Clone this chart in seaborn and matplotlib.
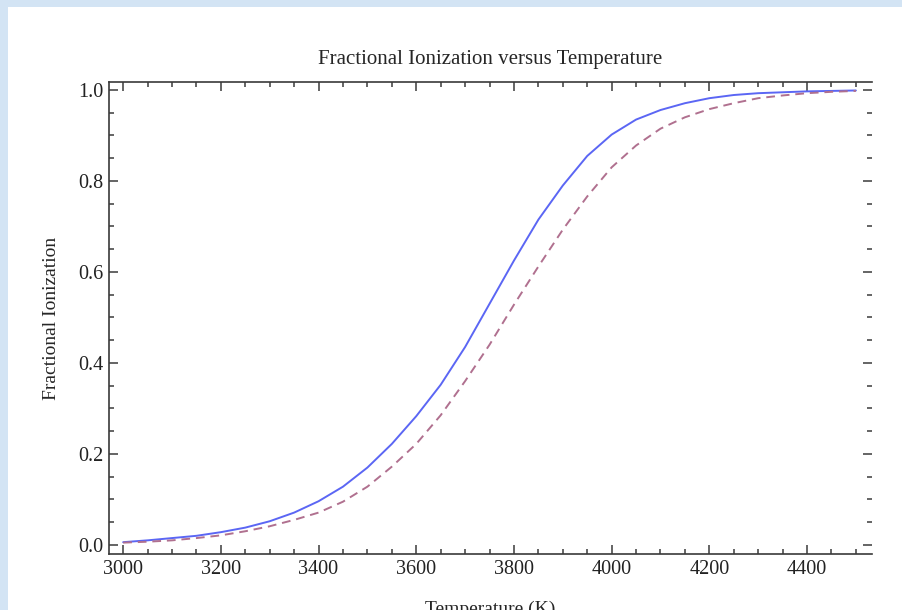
"""Fractional ionization vs temperature, two Saha-type curves."""
import matplotlib
matplotlib.use("Agg")
import matplotlib.pyplot as plt
import numpy as np
import pandas as pd
import seaborn as sns
from matplotlib.patches import Rectangle
from matplotlib.ticker import MultipleLocator, FormatStrFormatter


temperature = [3000, 3050, 3100, 3150, 3200, 3250, 3300, 3350, 3400, 3450,
               3500, 3550, 3600, 3650, 3700, 3750, 3800, 3850, 3900, 3950,
               4000, 4050, 4100, 4150, 4200, 4250, 4300, 4350, 4400, 4450,
               4500]
ion_solid = [0.006, 0.010, 0.015, 0.020, 0.028, 0.038, 0.052, 0.071, 0.096,
             0.128, 0.170, 0.222, 0.283, 0.352, 0.435, 0.530, 0.625, 0.715,
             0.790, 0.855, 0.902, 0.935, 0.956, 0.971, 0.982, 0.989, 0.993,
             0.995, 0.997, 0.998, 0.999]
ion_dashed = [0.005, 0.007, 0.010, 0.015, 0.021, 0.030, 0.041, 0.055, 0.071,
              0.095, 0.128, 0.172, 0.222, 0.285, 0.360, 0.440, 0.528, 0.612,
              0.693, 0.766, 0.830, 0.878, 0.915, 0.940, 0.958, 0.971, 0.982,
              0.988, 0.993, 0.996, 0.998]

BLUE = "#5b66f4"
MAUVE = "#b0708f"
FRAME = "#3a3a3a"
SERIF = ["Liberation Serif", "DejaVu Serif"]

sns.set_style("ticks")
plt.rcParams["font.family"] = SERIF

df = pd.DataFrame({"T": temperature, "solid": ion_solid, "dashed": ion_dashed})

fig = plt.figure(figsize=(9.03, 6.10), dpi=100, facecolor="white")
# light blue page border on the top and left edges
fig.patches.append(Rectangle((0, 0), 8 / 903, 1, transform=fig.transFigure,
                             facecolor="#d3e4f4", edgecolor="none", zorder=-10))
fig.patches.append(Rectangle((0, 1 - 7 / 610), 1, 7 / 610,
                             transform=fig.transFigure, facecolor="#d3e4f4",
                             edgecolor="none", zorder=-10))

ax = fig.add_axes([109 / 903, 1 - 554 / 610, (872 - 109) / 903, (554 - 82) / 610])
ax.set_facecolor("white")

sns.lineplot(data=df, x="T", y="solid", ax=ax, color=BLUE, linewidth=1.4)
sns.lineplot(data=df, x="T", y="dashed", ax=ax, color=MAUVE, linewidth=1.4,
             linestyle=(0, (4.5, 3)))

ax.set_xlim(2971, 4533)
ax.set_ylim(-0.02, 1.0176)
ax.xaxis.set_major_locator(MultipleLocator(200))
ax.xaxis.set_minor_locator(MultipleLocator(50))
ax.yaxis.set_major_locator(MultipleLocator(0.2))
ax.yaxis.set_minor_locator(MultipleLocator(0.05))
ax.yaxis.set_major_formatter(FormatStrFormatter("%.1f"))

ax.tick_params(which="both", direction="in", top=True, right=True,
               color=FRAME, width=1.1, labelsize=14.5, pad=4,
               labelcolor="#222222")
ax.tick_params(which="major", length=6.5)
ax.tick_params(which="minor", length=3.8)

for side in ["left", "bottom", "top"]:
    ax.spines[side].set_color(FRAME)
    ax.spines[side].set_linewidth(1.2)
ax.spines["right"].set_visible(False)

ax.set_title("Fractional Ionization versus Temperature", fontsize=15, pad=13)
ax.set_xlabel("Temperature (K)", fontsize=14, labelpad=16)
ax.set_ylabel("Fractional Ionization", fontsize=14, labelpad=13)

fig.savefig("out.png", dpi=100, facecolor=fig.get_facecolor())
